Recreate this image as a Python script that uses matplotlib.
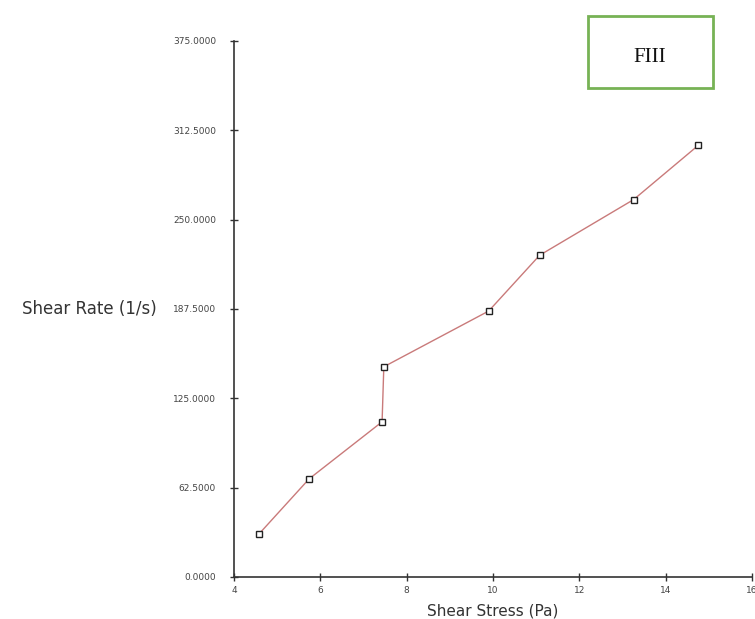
import matplotlib
matplotlib.use("Agg")
import matplotlib.pyplot as plt
from matplotlib.patches import Rectangle

# shear stress (Pa) vs shear rate (1/s)
shear_stress = [4.58, 5.74, 7.43, 7.47, 9.90, 11.08, 13.26, 14.76]
shear_rate = [30.1, 68.6, 108.5, 147.0, 186.0, 225.0, 264.0, 302.0]
x_ticks = [4, 6, 8, 10, 12, 14, 16]
y_ticks = [0, 62.5, 125, 187.5, 250, 312.5, 375]

fig = plt.figure(figsize=(7.55, 6.19), dpi=100)
ax = fig.add_axes([0.31, 0.068, 0.686, 0.866])

ax.plot(shear_stress, shear_rate, color="#c97a7a", linewidth=1.0,
        marker="s", markersize=5, markerfacecolor="white",
        markeredgecolor="#222222", markeredgewidth=1.0)

ax.set_xlim(4, 16)
ax.set_ylim(0, 375)
ax.set_xticks(x_ticks)
ax.set_yticks(y_ticks)
ax.set_xticklabels([str(t) for t in x_ticks])
ax.set_yticklabels([f"{t:.4f}" for t in y_ticks])
ax.tick_params(direction="inout", length=6, width=1.0, color="#333333",
               labelsize=6.5, labelcolor="#444444")
ax.tick_params(axis="y", pad=10)

for side in ("top", "right"):
    ax.spines[side].set_visible(False)
for side in ("left", "bottom"):
    ax.spines[side].set_color("#333333")
    ax.spines[side].set_linewidth(1.2)

ax.set_xlabel("Shear Stress (Pa)", fontsize=11, color="#333333", labelpad=6)
ax.set_ylabel("Shear Rate (1/s)", fontsize=12, color="#333333",
              rotation=0, ha="right", va="center")
ax.yaxis.set_label_coords(-0.15, 0.5)

# FIII label box
fig.patches.append(Rectangle((588 / 755, 1 - 88 / 619), 125 / 755, 72 / 619,
                             transform=fig.transFigure, fill=False,
                             edgecolor="#77b255", linewidth=2.0))
fig.text(650 / 755, 1 - 57 / 619, "FIII", fontsize=15, family="Liberation Serif",
         ha="center", va="center", color="#111111")

fig.savefig("out.png", dpi=100)
